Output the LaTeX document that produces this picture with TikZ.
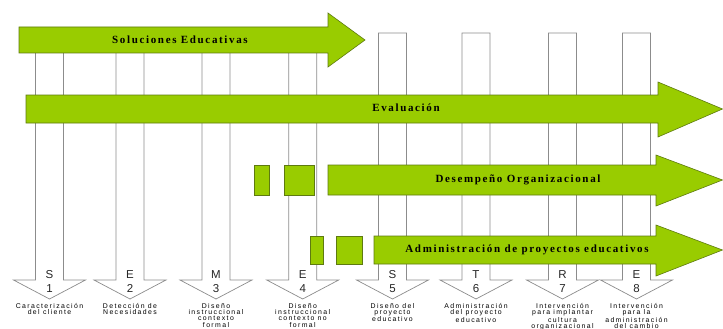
\documentclass[tikz,border=0pt]{standalone}
\usepackage{fontspec}
\setmainfont{Liberation Serif}
\newfontfamily\bannerfont{Liberation Serif}[LetterSpace=15]
\newfontfamily\capfont{Liberation Sans}[LetterSpace=20]
\newfontfamily\markfont{Liberation Sans}
\definecolor{leaf}{HTML}{99CC00}
\definecolor{leafedge}{HTML}{5E7A10}
\definecolor{shaftline}{HTML}{8C8C8C}

% right-pointing block arrow: shaft left x, shaft top, shaft bottom,
% head start x, head top, head bottom, tip x
\newcommand\blockarrow[7]{%
  \draw[greenshape]
    (#1,#2) -- (#4,#2) -- (#4,#5) -- (#7,{(#2+#3)/2}) -- (#4,#6)
    -- (#4,#3) -- (#1,#3) -- cycle;}

% downward stage arrow centred at x, shaft from top y
\newcommand\stagearrow[2]{%
  \draw[stageshape]
    ({#1-14},#2) -- ({#1+14},#2) -- ({#1+14},280) -- ({#1+36},280)
    -- (#1,299) -- ({#1-36},280) -- ({#1-14},280) -- cycle;}

\begin{document}
\begin{tikzpicture}[x=1pt,y=-1pt,
  greenshape/.style={fill=leaf,draw=leafedge,line width=0.6pt},
  stageshape/.style={fill=white,draw=shaftline,line width=0.7pt},
  banner/.style={font=\bannerfont\bfseries\fontsize{11}{12}\selectfont,inner sep=0pt},
  stagemark/.style={font=\markfont\fontsize{11.5}{12}\selectfont,text=black!85,inner sep=0pt},
  stagecap/.style={font=\capfont\fontsize{6.9}{6.3}\selectfont,text=black,align=center,anchor=north,inner sep=0pt}]
\useasboundingbox (0,0) rectangle (723,329);

% eight stages
\foreach \cx/\tp/\ltr/\num/\cap [count=\i] in {
  49.5/30/S/1/{Caracterización\\del cliente},
  130/30/E/2/{Detección de\\Necesidades},
  216/30/M/3/{Diseño\\instruccional\\contexto\\formal},
  302.7/30/E/4/{Diseño\\instruccional\\contexto no\\formal},
  392.5/33/S/5/{Diseño del\\proyecto\\educativo},
  476/33/T/6/{Administración\\del proyecto\\educativo},
  562.5/33/R/7/{Intervención\\para implantar\\cultura\\organizacional},
  636.5/33/E/8/{Intervención\\para la\\administración\\del cambio}} {
  \stagearrow{\cx}{\tp}
  \node[stagemark] (ltr\i) at (\cx,275) {\ltr};
  \node[stagemark] (num\i) at (\cx,288.5) {\num};
  \node[stagecap] (cap\i) at (\cx,303) {\cap};
}

% Soluciones Educativas
\blockarrow{19}{27}{53}{328}{13}{67}{365}
\node[banner] (sol) at (180,40) {Soluciones Educativas};

% Evaluación
\blockarrow{26}{95}{123}{658}{82}{137}{722.5}
\node[banner] (eva) at (406,108) {Evaluación};

% Desempeño Organizacional
\draw[greenshape] (254,165) rectangle (269,195);
\draw[greenshape] (284,165) rectangle (314,195);
\blockarrow{328}{165}{195}{656}{155}{206}{722.5}
\node[banner] (des) at (518,179.5) {Desempeño Organizacional};

% Administración de proyectos educativos
\draw[greenshape] (310,236) rectangle (323,264);
\draw[greenshape] (336,236) rectangle (362,264);
\blockarrow{374}{236}{264}{656}{225}{276}{722.5}
\node[banner] (adm) at (527,250) {Administración de proyectos educativos};
\end{tikzpicture}
\end{document}
